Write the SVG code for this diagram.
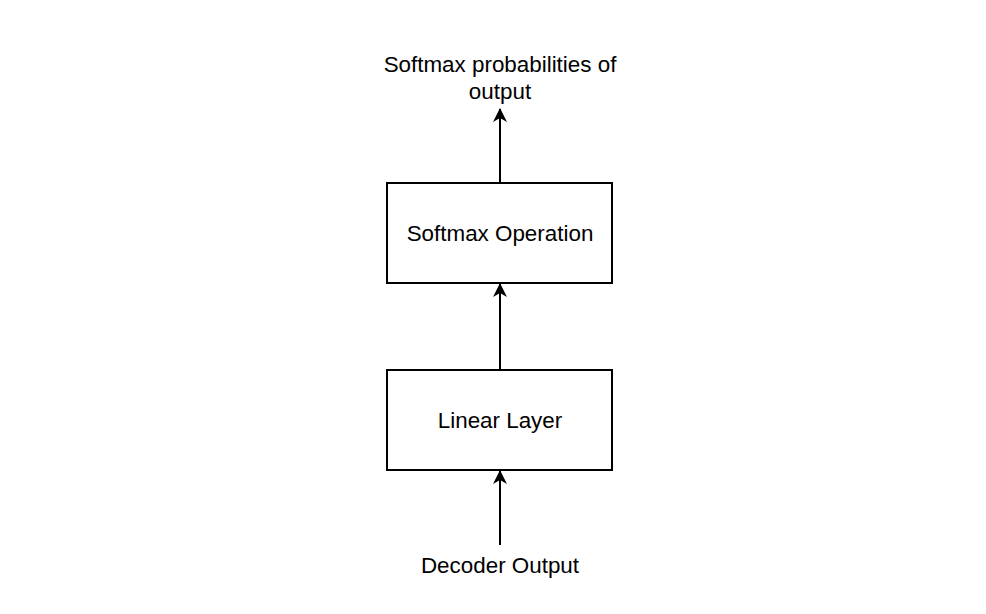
<svg xmlns="http://www.w3.org/2000/svg" width="986" height="614" viewBox="0 0 986 614">
<style>
.box{fill:#fff;stroke:#000;stroke-width:2}
.edge{fill:none;stroke:#000;stroke-width:2}
text{font-family:"Liberation Sans",Arial,sans-serif;font-size:22.4px;fill:#000;text-anchor:middle}
</style>
<defs>
<marker id="arr" viewBox="0 0 14 14" refX="13" refY="7" markerWidth="14" markerHeight="14" markerUnits="userSpaceOnUse" orient="auto">
<path d="M0,0 L14,7 L0,14 L4,7 Z" fill="#000"/>
</marker>
</defs>
<rect width="986" height="614" fill="#fff"/>
<g id="connectors">
<line class="edge" x1="500" y1="183" x2="500" y2="109" marker-end="url(#arr)"/>
<line class="edge" x1="500" y1="370" x2="500" y2="284" marker-end="url(#arr)"/>
<line class="edge" x1="500" y1="545" x2="500" y2="471" marker-end="url(#arr)"/>
</g>
<g id="softmax-output-label">
<text x="500" y="72">Softmax probabilities of</text>
<text x="500" y="99">output</text>
</g>
<g id="softmax-operation">
<rect class="box" x="387" y="183" width="225" height="100"/>
<text x="500" y="241">Softmax Operation</text>
</g>
<g id="linear-layer">
<rect class="box" x="387" y="370" width="225" height="100"/>
<text x="500" y="428">Linear Layer</text>
</g>
<g id="decoder-output">
<text x="500" y="573">Decoder Output</text>
</g>
</svg>
